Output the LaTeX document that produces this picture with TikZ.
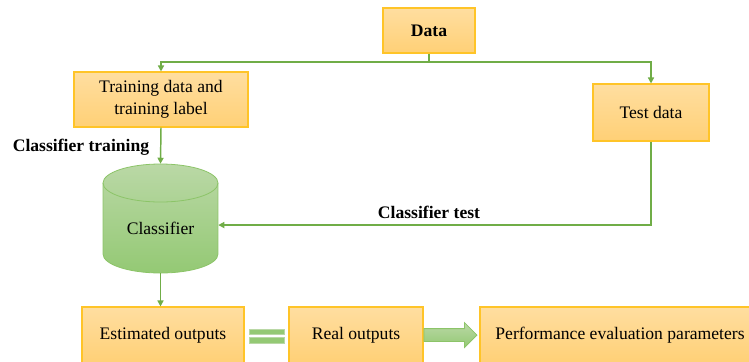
\documentclass[tikz,border=0pt]{standalone}
\usepackage{fontspec}
\setmainfont{Liberation Serif}
\usetikzlibrary{arrows.meta, positioning, calc, shapes.geometric, shapes.arrows}
\definecolor{BoxTop}{RGB}{255,222,160}
\definecolor{BoxBottom}{RGB}{255,208,118}
\definecolor{BoxEdge}{RGB}{255,196,40}
\definecolor{FlowGreen}{RGB}{112,173,71}
\definecolor{CylTop}{RGB}{186,216,166}
\definecolor{CylBottom}{RGB}{148,201,116}
\definecolor{CylEdge}{RGB}{140,196,104}

\tikzset{
  stagebox/.style={draw=BoxEdge, line width=0.8pt, top color=BoxTop, bottom color=BoxBottom, align=center, inner sep=2pt},
  steplabel/.style={font=\fontsize{13.2}{16.5}\selectfont\bfseries},
  flow/.style={draw=FlowGreen, line width=1.1pt, -{Triangle[length=4.5pt, width=4.5pt]}},
  bigarrow/.style={single arrow, draw=CylEdge, line width=0.6pt, top color=CylTop, bottom color=CylBottom, inner sep=4.5pt, single arrow head extend=4.5pt, minimum height=39.75pt}
}

\begin{document}
\begin{tikzpicture}[x=0.75pt, y=-0.75pt, every node/.style={font=\fontsize{13.2}{16.5}\selectfont}]
    \clip (0,0) rectangle (749,361);

    % --- INPUT DATA ---
    \node[stagebox, font=\fontsize{13.2}{16.5}\selectfont\bfseries, minimum width=69pt, minimum height=33.75pt] (data) at (429,30.5) {Data};
    \node[stagebox, minimum width=130.5pt, minimum height=41.25pt] (train) at (161,99.5) {Training data and\\training label};
    \node[stagebox, minimum width=87pt, minimum height=42.75pt] (test) at (651,112.5) {Test data};

    % --- CLASSIFIER ---
    \shade[top color=CylTop, bottom color=CylBottom, draw=CylEdge, line width=0.6pt] (103,183) -- (103,254) arc[start angle=180, end angle=0, x radius=57.5, y radius=19] -- (218,183) arc[start angle=0, end angle=-180, x radius=57.5, y radius=19] -- cycle;
    \draw[CylEdge, line width=0.6pt] (103,183) arc[start angle=180, end angle=0, x radius=57.5, y radius=19];
    \node[minimum width=86.25pt, minimum height=81.75pt, text height=23.5pt, text depth=0pt] (cyl) at (160.5,218.5) {Classifier};

    % --- OUTPUTS ---
    \node[stagebox, minimum width=121.5pt, minimum height=42pt] (est) at (163,335) {Estimated outputs};
    \node[stagebox, minimum width=100.5pt, minimum height=42pt] (real) at (356,335) {Real outputs};
    \node[stagebox, minimum width=210pt, minimum height=42pt] (perf) at (620,335) {Performance evaluation parameters};

    % Labels
    \node[steplabel] (trainlbl) at (81,147) {Classifier training};
    \node[steplabel] (testlbl) at (429,212) {Classifier test};

    % Split
    \coordinate (fork) at ($(data.south)+(0,8.5)$);
    \draw[flow] (data.south) -- (fork) -| (train.north);
    \draw[flow] (fork) -| (test.north);

    % Train and test
    \draw[flow] (train.south) -- (cyl.north);
    \draw[flow] (test.south) |- ([yshift=-4.9pt]cyl.east);
    \draw[flow] (cyl.south) -- (cyl.south |- est.north);

    % Equal sign
    \fill[CylBottom, draw=CylTop, line width=0.4pt] ($(est.east)+(5,-6)$) rectangle ($(est.east)+(40,-1)$);
    \fill[CylBottom, draw=CylTop, line width=0.4pt] ($(est.east)+(5,2)$) rectangle ($(est.east)+(40,8)$);

    % Arrow Out
    \node[bigarrow, anchor=tail] (push) at (real.east) {};
\end{tikzpicture}
\end{document}
